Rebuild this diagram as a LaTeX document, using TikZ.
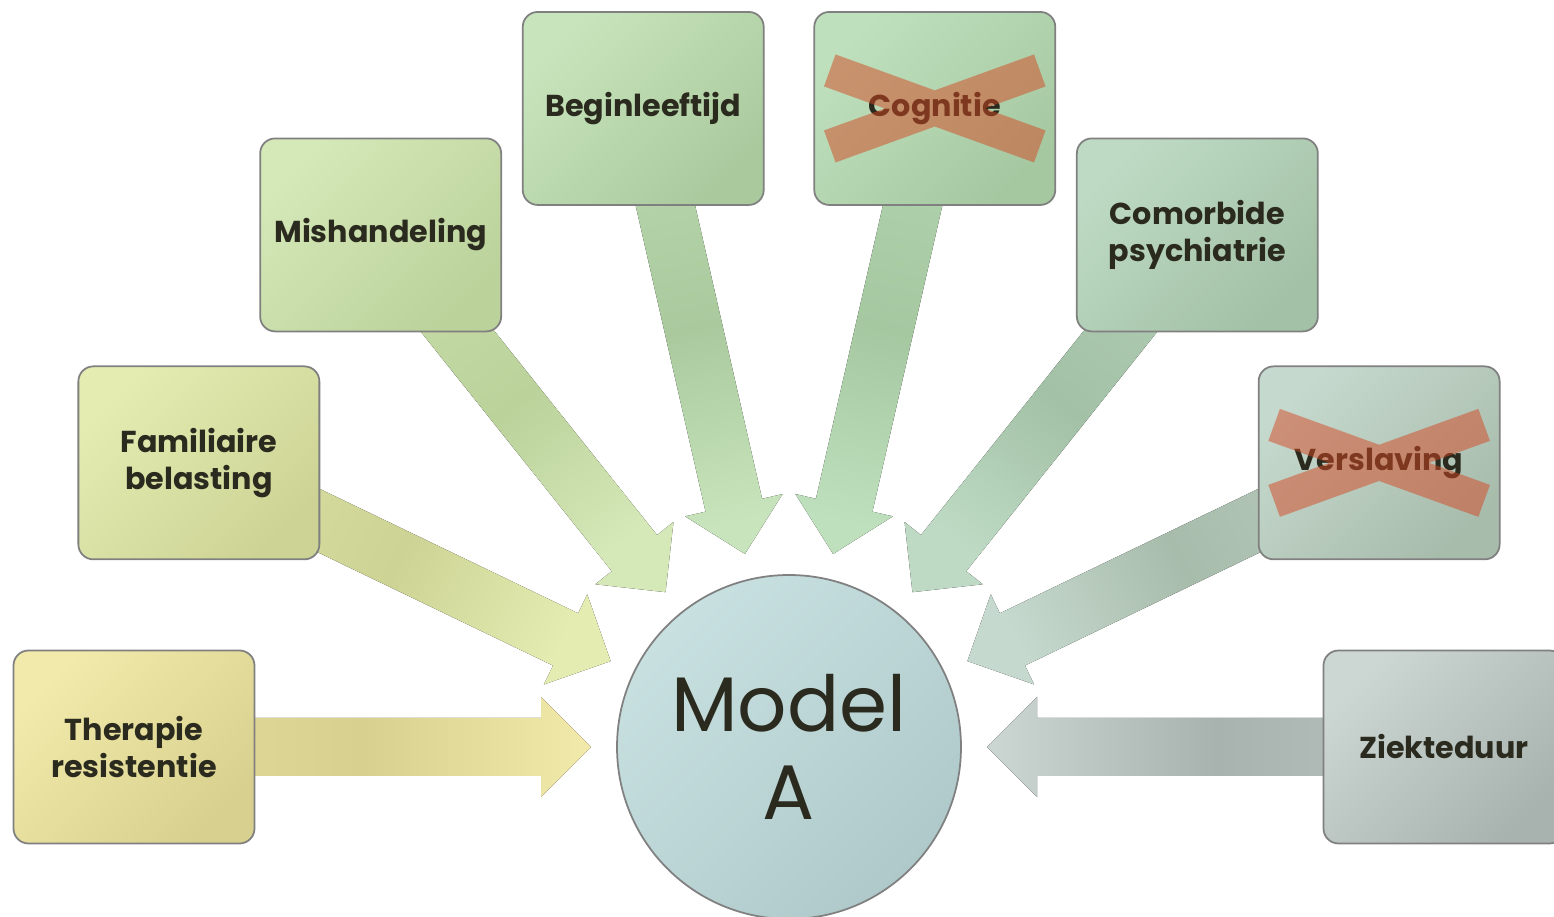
\documentclass[tikz,border=0pt]{standalone}
\usepackage{fontspec}
\setmainfont{Poppins}
\usetikzlibrary{calc}
\pgfdeclarelayer{bg}
\pgfsetlayers{bg,main}

\definecolor{ink}{HTML}{2B2A1E}
\definecolor{xred}{HTML}{D44722}
\definecolor{hubL}{HTML}{C8E0E0}
\definecolor{hubD}{HTML}{AFC9CA}
\definecolor{therL}{HTML}{F2EAAA}
\definecolor{therD}{HTML}{D8D08E}
\definecolor{famL}{HTML}{E4ECB2}
\definecolor{famD}{HTML}{CCD394}
\definecolor{misL}{HTML}{D5E8B8}
\definecolor{misD}{HTML}{BBD29B}
\definecolor{begL}{HTML}{C8E4BC}
\definecolor{begD}{HTML}{AACA9E}
\definecolor{cogL}{HTML}{BFE0BD}
\definecolor{cogD}{HTML}{A5C8A1}
\definecolor{comL}{HTML}{BEDAC4}
\definecolor{comD}{HTML}{A3C1A6}
\definecolor{verL}{HTML}{C6D9CE}
\definecolor{verD}{HTML}{A8BCAC}
\definecolor{zieL}{HTML}{CCD7D3}
\definecolor{zieD}{HTML}{A8B2AE}

\tikzset{
  factor/.style 2 args={draw=black!50, line width=0.5pt, rounded corners=1.5mm,
    minimum width=2.41cm, minimum height=1.93cm, align=center, text=ink,
    font=\bfseries\fontsize{8.6}{10.5}\selectfont,
    top color=#1, bottom color=#2, shading angle=45},
  hub/.style={circle, draw=black!50, line width=0.5pt, minimum size=3.44cm,
    align=center, text=ink, font=\fontsize{22}{25}\selectfont,
    top color=hubL, bottom color=hubD, shading angle=45},
  xbar/.style={draw=xred, line width=0.34cm, opacity=0.5},
}

\begin{document}
\begin{tikzpicture}[x=0.1mm, y=0.1mm]
  \useasboundingbox (0,0) rectangle (1554,917);

  \node[hub] (m) at (789,170) {Model\\A};

  \node[factor={therL}{therD}] (b0) at ($(m)+(180:655)$) {Therapie\\resistentie};
  \node[factor={famL}{famD}] (b1) at ($(m)+(154.29:655)$) {Familiaire\\belasting};
  \node[factor={misL}{misD}] (b2) at ($(m)+(128.57:655)$) {Mishandeling};
  \node[factor={begL}{begD}] (b3) at ($(m)+(102.86:655)$) {Beginleeftijd};
  \node[factor={cogL}{cogD}] (b4) at ($(m)+(77.14:655)$) {Cognitie};
  \node[factor={comL}{comD}] (b5) at ($(m)+(51.43:655)$) {Comorbide\\psychiatrie};
  \node[factor={verL}{verD}] (b6) at ($(m)+(25.71:655)$) {Verslaving};
  \node[factor={zieL}{zieD}] (b7) at ($(m)+(0:655)$) {Ziekteduur};

  % block arrows behind the boxes
  \begin{pgfonlayer}{bg}
  \foreach \b/\a/\cl/\cd in {b0/270/therL/therD, b1/244.29/famL/famD,
      b2/218.57/misL/misD, b3/192.86/begL/begD, b4/167.14/cogL/cogD,
      b5/141.43/comL/comD, b6/115.71/verL/verD, b7/90/zieL/zieD}{
    \coordinate (tip) at ($(m.center)!1.98cm!(\b.center)$);
    \coordinate (neck) at ($(m.center)!2.48cm!(\b.center)$);
    \fill[top color=\cl, bottom color=\cl!45!\cd, middle color=\cd, shading angle=\a]
      (tip) -- ($(neck)!0.5cm!90:(\b.center)$) -- ($(neck)!0.29cm!90:(\b.center)$)
      -- ($(\b.center)!0.29cm!-90:(m.center)$) -- ($(\b.center)!0.29cm!90:(m.center)$)
      -- ($(neck)!0.29cm!-90:(\b.center)$) -- ($(neck)!0.5cm!-90:(\b.center)$) -- cycle;
  }
  \end{pgfonlayer}

  % crossed out
  \draw[xbar] ([shift={(-105,38)}]b4.center) -- ([shift={(105,-38)}]b4.center)
    ([shift={(-105,-38)}]b4.center) -- ([shift={(105,38)}]b4.center);
  \draw[xbar] ([shift={(-105,38)}]b6.center) -- ([shift={(105,-38)}]b6.center)
    ([shift={(-105,-38)}]b6.center) -- ([shift={(105,38)}]b6.center);
\end{tikzpicture}
\end{document}
